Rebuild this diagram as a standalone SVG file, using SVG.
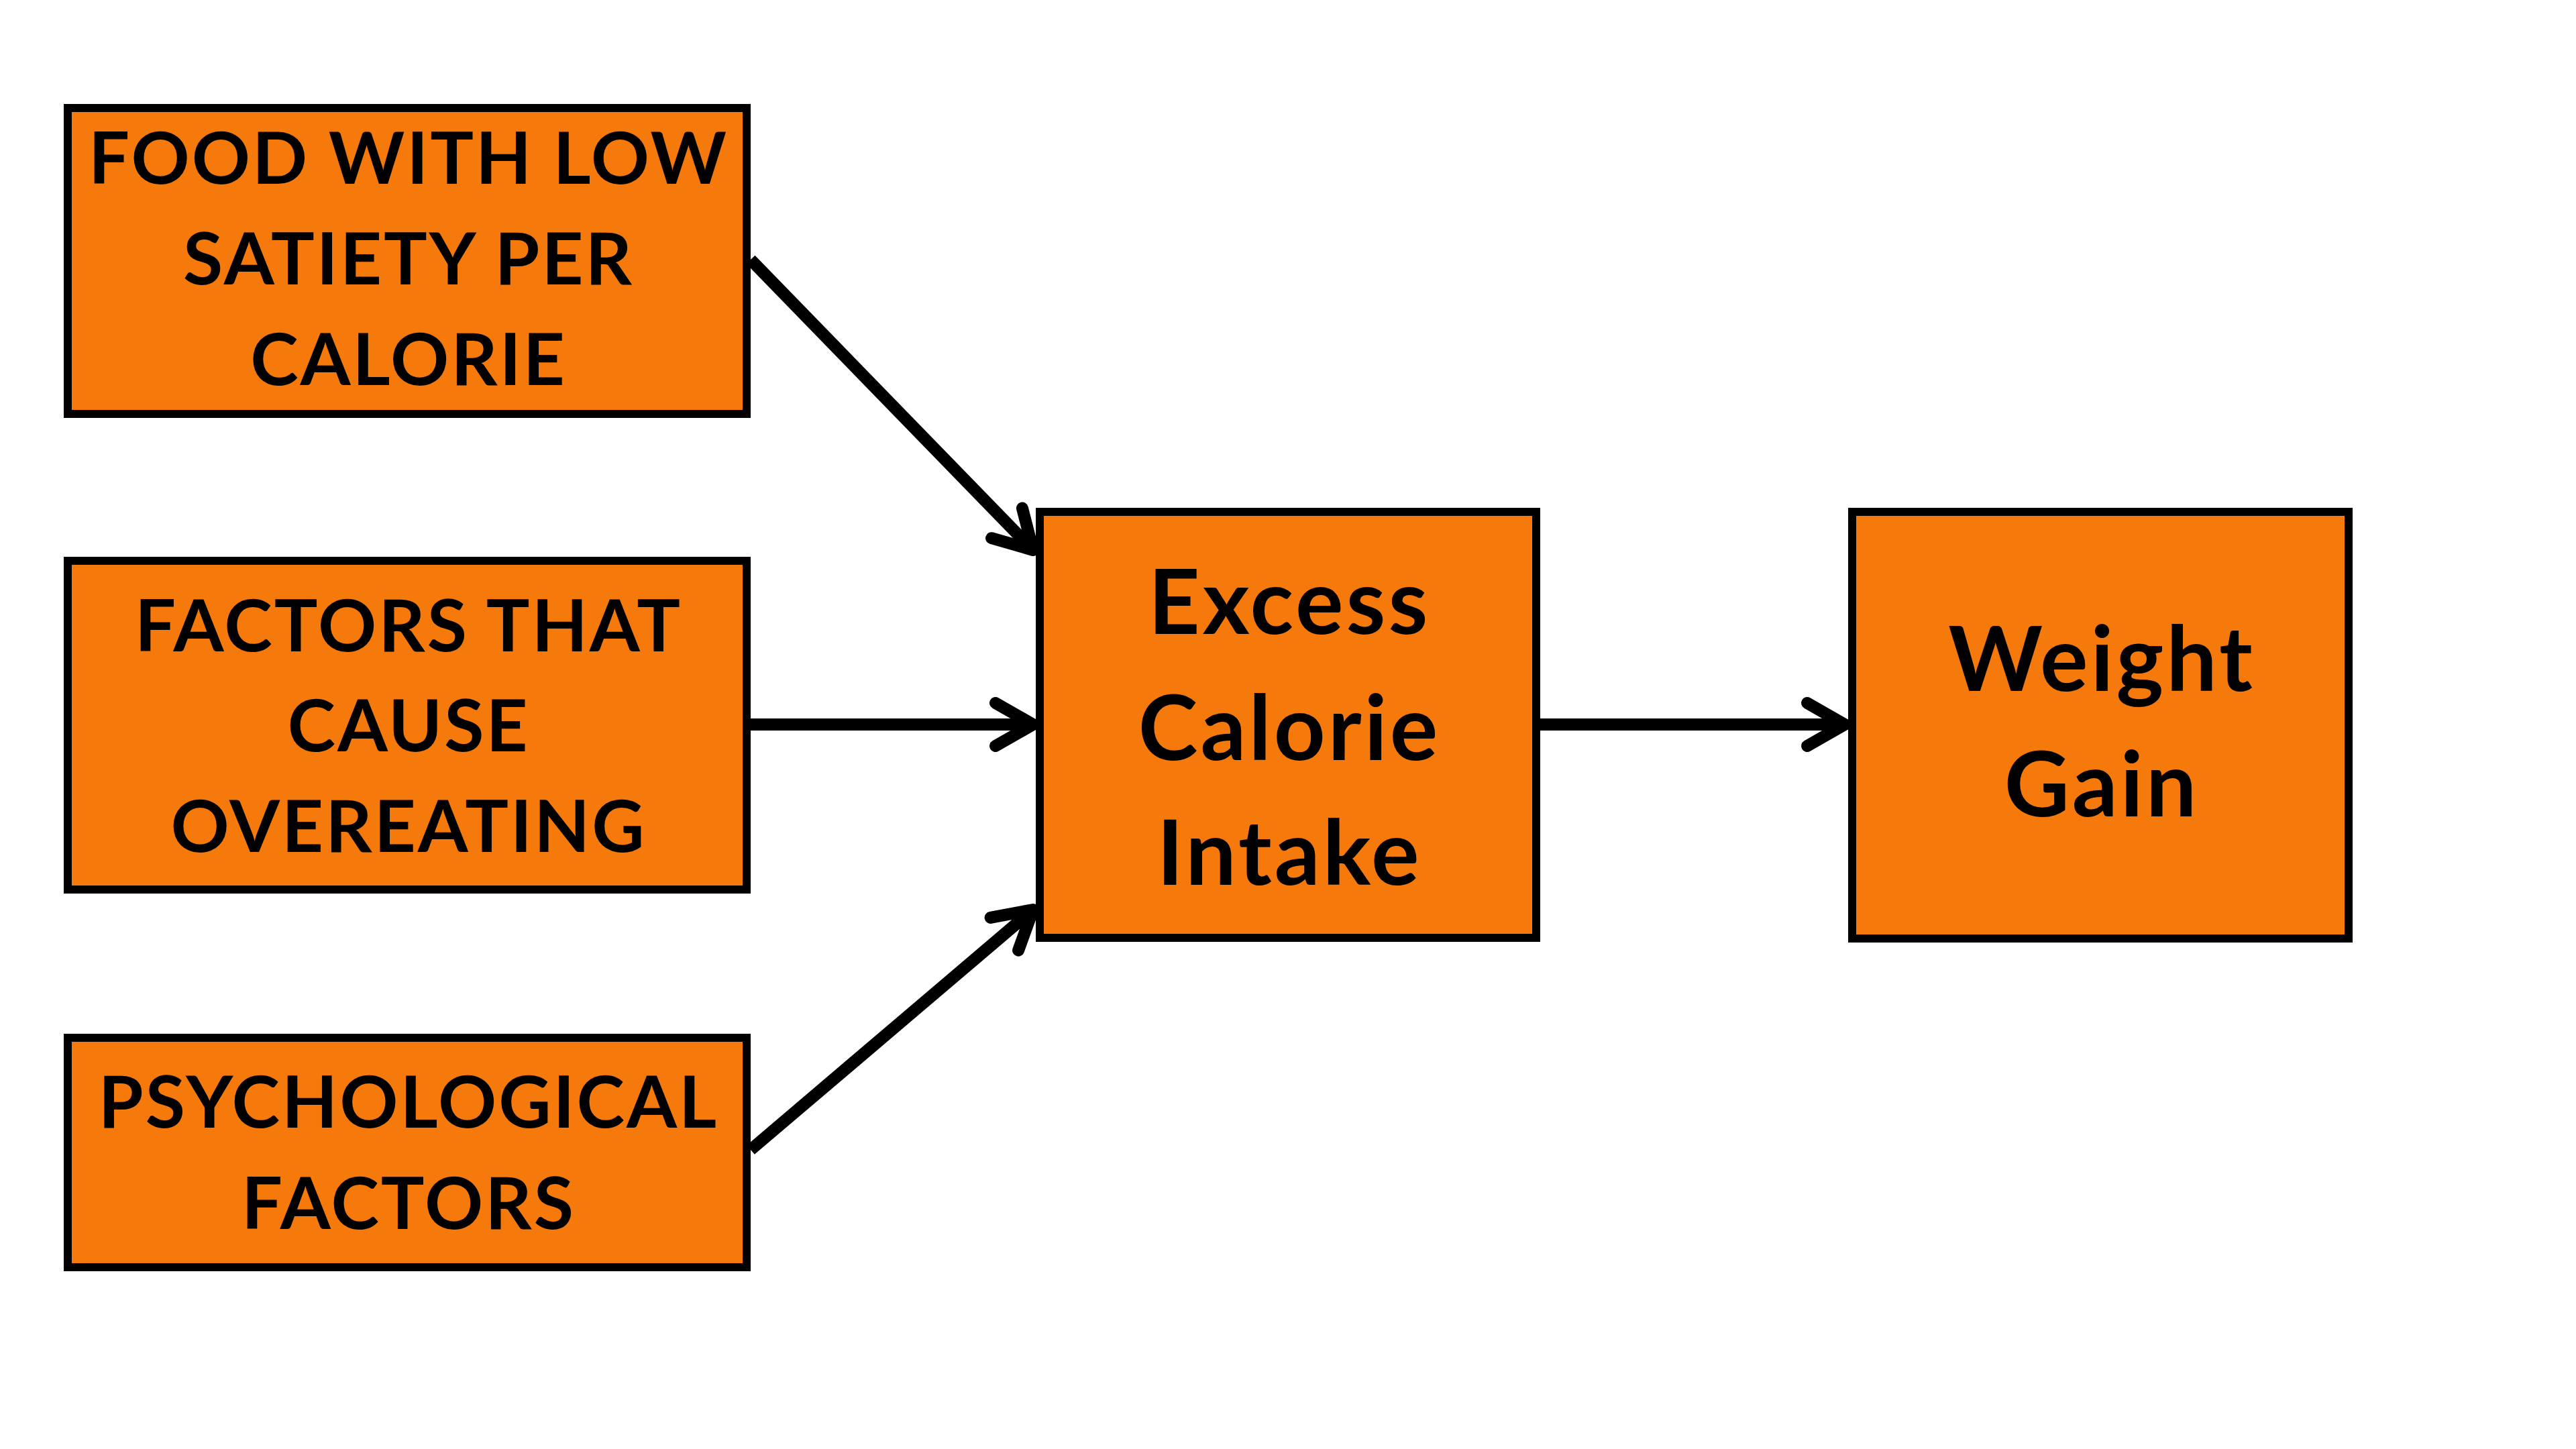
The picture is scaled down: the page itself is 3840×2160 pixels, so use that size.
<svg xmlns="http://www.w3.org/2000/svg" width="3840" height="2160" viewBox="0 0 3840 2160">
<style>
.box{fill:#F6790B;stroke:#000;stroke-width:12}
.cap{font-family:Lato,"Liberation Sans",sans-serif;font-weight:700;font-size:108px;letter-spacing:3px;fill:#000;text-anchor:middle}
.big{font-family:Lato,"Liberation Sans",sans-serif;font-weight:700;font-size:134px;letter-spacing:4px;fill:#000;text-anchor:middle}
.con{stroke:#000;stroke-width:18;fill:none}
</style>
<defs>
<marker id="ah" markerUnits="userSpaceOnUse" orient="auto" refX="0" refY="0" markerWidth="200" markerHeight="200" viewBox="-100 -100 200 200" overflow="visible">
<path d="M-56,-32 L0,0 L-56,32" fill="none" stroke="#000" stroke-width="18" stroke-linecap="round" stroke-linejoin="round"/>
</marker>
</defs>
<rect width="3840" height="2160" fill="#fff"/>
<g id="connectors">
<line class="con" x1="1119" y1="387" x2="1540" y2="820" marker-end="url(#ah)"/>
<line class="con" x1="1119" y1="1080" x2="1540" y2="1080" marker-end="url(#ah)"/>
<line class="con" x1="1119" y1="1714" x2="1540" y2="1356" marker-end="url(#ah)"/>
<line class="con" x1="2296" y1="1080" x2="2750" y2="1080" marker-end="url(#ah)"/>
</g>
<g id="food">
<rect class="box" x="101" y="161" width="1012" height="456"/>
<text class="cap" x="609" y="274">FOOD WITH LOW</text>
<text class="cap" x="609" y="424">SATIETY PER</text>
<text class="cap" x="609" y="574">CALORIE</text>
</g>
<g id="factors">
<rect class="box" x="101" y="836" width="1012" height="490"/>
<text class="cap" x="609" y="971">FACTORS THAT</text>
<text class="cap" x="609" y="1120">CAUSE</text>
<text class="cap" x="609" y="1270">OVEREATING</text>
</g>
<g id="psych">
<rect class="box" x="101" y="1547" width="1012" height="342"/>
<text class="cap" x="609" y="1681">PSYCHOLOGICAL</text>
<text class="cap" x="609" y="1832">FACTORS</text>
</g>
<g id="excess">
<rect class="box" x="1550" y="763" width="740" height="635"/>
<text class="big" x="1922" y="945">Excess</text>
<text class="big" x="1922" y="1133">Calorie</text>
<text class="big" x="1922" y="1319">Intake</text>
</g>
<g id="weight">
<rect class="box" x="2761" y="763" width="740" height="636"/>
<text class="big" x="3133" y="1030">Weight</text>
<text class="big" x="3133" y="1217">Gain</text>
</g>
</svg>
